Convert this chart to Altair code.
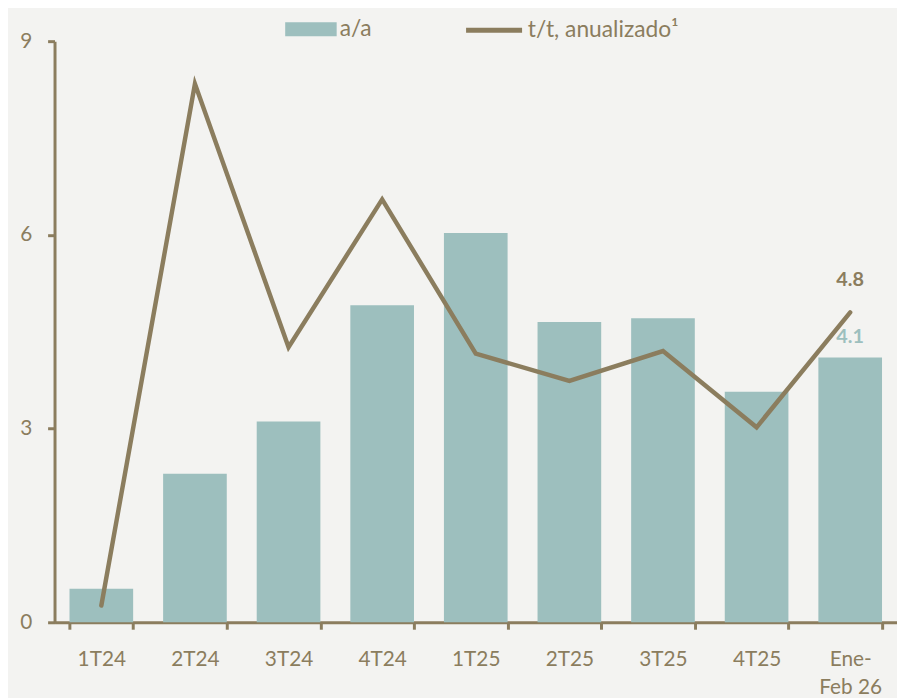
import altair as alt
import pandas as pd

categories = ["1T24", "2T24", "3T24", "4T24", "1T25", "2T25", "3T25", "4T25", "Ene-Feb 26"]
yoy = [0.52, 2.30, 3.11, 4.91, 6.03, 4.65, 4.71, 3.57, 4.1]
qoq_ann = [0.26, 8.34, 4.26, 6.55, 4.16, 3.74, 4.20, 3.02, 4.8]

BAR = "#9dbfbe"
LINE = "#8b7d5e"
TXT = "#8b7d5e"
FONT = "Lato"

df = pd.DataFrame({"cat": categories, "yoy": yoy, "qoq": qoq_ann,
                   "s1": "a/a", "s2": "t/t, anualizado\u00b9"})
last = df.tail(1).copy()
last["yoy_lbl"] = last["yoy"].map(lambda v: f"{v:.1f}")
last["qoq_lbl"] = last["qoq"].map(lambda v: f"{v:.1f}")

x = alt.X("cat:N", sort=categories, title=None,
          scale=alt.Scale(paddingInner=0.32, paddingOuter=0.16),
          axis=alt.Axis(labelAngle=0, tickBand="extent", domainWidth=3, domainColor=LINE,
                        tickColor=LINE, tickWidth=3, tickSize=7, labelPadding=20,
                        labelColor=TXT, labelFontSize=21, labelFont=FONT, labelLineHeight=28,
                        labelExpr="datum.value == 'Ene-Feb 26' ? ['Ene-', 'Feb 26'] : datum.label"))
yscale = alt.Scale(domain=[0, 9], nice=False)
yaxis = alt.Axis(values=[0, 3, 6, 9], format="d", grid=False, domainWidth=3, domainColor=LINE,
                 tickColor=LINE, tickWidth=3, tickSize=7, labelPadding=16,
                 labelColor=TXT, labelFontSize=21, labelFont=FONT)

bars = alt.Chart(df).mark_bar(color=BAR).encode(
    x=x,
    y=alt.Y("yoy:Q", scale=yscale, axis=yaxis, title=None),
    fill=alt.Fill("s1:N", scale=alt.Scale(range=[BAR]),
                  legend=alt.Legend(title=None, orient="none", legendX=233, legendY=-38,
                                    symbolType="M-1,-0.27H1V0.27H-1Z", symbolSize=2704,
                                    symbolStrokeWidth=0, labelFontSize=23, labelColor=TXT,
                                    labelFont=FONT, labelOffset=3)),
)

line = alt.Chart(df).mark_line(color=LINE, strokeWidth=4.5, strokeCap="round",
                               strokeJoin="miter").encode(
    x=x,
    y=alt.Y("qoq:Q", scale=yscale),
    stroke=alt.Stroke("s2:N", scale=alt.Scale(range=[LINE]),
                      legend=alt.Legend(title=None, orient="none", legendX=413, legendY=-42,
                                        symbolType="stroke", symbolSize=3200,
                                        symbolStrokeWidth=5, labelFontSize=23, labelColor=TXT,
                                        labelFont=FONT, labelOffset=3)),
)

lbl_yoy = alt.Chart(last).mark_text(color=BAR, fontSize=20, fontWeight="bold", font=FONT,
                                    dy=-21).encode(
    x=x, y=alt.Y("yoy:Q", scale=yscale), text="yoy_lbl:N")
lbl_qoq = alt.Chart(last).mark_text(color=LINE, fontSize=20, fontWeight="bold", font=FONT,
                                    dy=-33).encode(
    x=x, y=alt.Y("qoq:Q", scale=yscale), text="qoq_lbl:N")

chart = alt.layer(bars, line, lbl_yoy, lbl_qoq).resolve_scale(
    fill="independent", stroke="independent"
).properties(
    width=851, height=587,
    autosize=alt.AutoSizeParams(type="none"),
    padding={"left": 47, "top": 30, "right": 0, "bottom": 75},
    background="#f3f3f1",
).configure_view(stroke=None)

chart.save("out.html", embed_options={"renderer": "svg", "actions": False})
